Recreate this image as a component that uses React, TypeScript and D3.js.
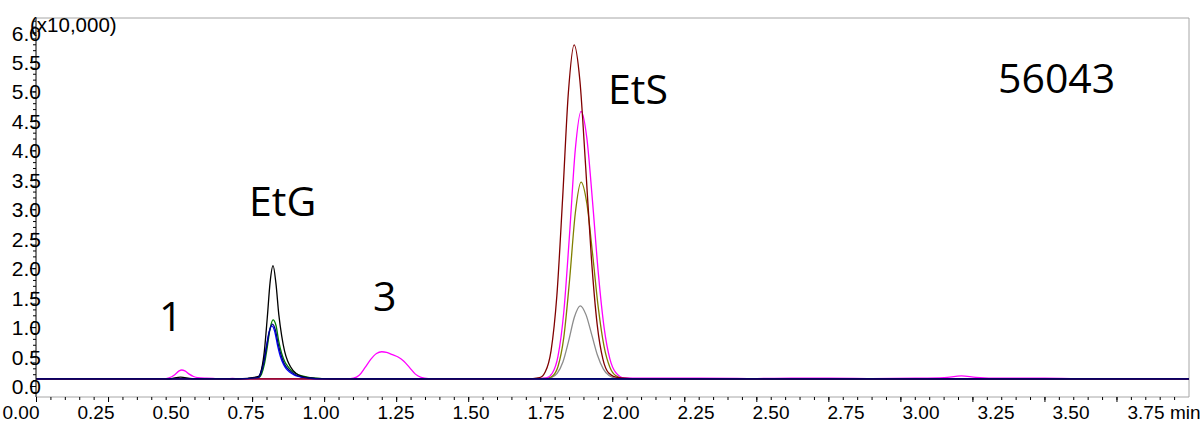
import React from "react";
import * as d3 from "d3";

// Intensity in units of x10,000; time in minutes
const xTicks = [0, 0.25, 0.5, 0.75, 1.0, 1.25, 1.5, 1.75, 2.0, 2.25, 2.5, 2.75, 3.0, 3.25, 3.5, 3.75];
const yTicks = [0, 0.5, 1.0, 1.5, 2.0, 2.5, 3.0, 3.5, 4.0, 4.5, 5.0, 5.5, 6.0];

const traceGray: [number, number][] = [
  [0, 0.13], [1.70, 0.13], [1.767, 0.133], [1.787, 0.151], [1.807, 0.221], [1.827, 0.415], [1.847, 0.775],
  [1.867, 1.18], [1.887, 1.37], [1.907, 1.22], [1.927, 0.88], [1.947, 0.53], [1.967, 0.30], [1.987, 0.185],
  [2.007, 0.144], [2.04, 0.13], [4.0, 0.13],
];
const traceOlive: [number, number][] = [
  [0, 0.13], [1.70, 0.13], [1.77, 0.137], [1.79, 0.174], [1.81, 0.34], [1.83, 0.83], [1.85, 1.80], [1.87, 2.94],
  [1.89, 3.47], [1.91, 3.11], [1.93, 2.25], [1.95, 1.33], [1.97, 0.675], [1.99, 0.326], [2.01, 0.186],
  [2.04, 0.136], [2.10, 0.13], [4.0, 0.13],
];
const traceGreen: [number, number][] = [
  [0, 0.13], [0.70, 0.13], [0.771, 0.15], [0.781, 0.21], [0.791, 0.38], [0.801, 0.67], [0.811, 0.99],
  [0.821, 1.13], [0.831, 1.04], [0.841, 0.76], [0.851, 0.56], [0.861, 0.43], [0.871, 0.35], [0.881, 0.29],
  [0.901, 0.22], [0.921, 0.18], [0.951, 0.15], [0.991, 0.135], [1.05, 0.13], [4.0, 0.13],
];
const traceBlue: [number, number][] = [
  [0, 0.13], [0.70, 0.13], [0.767, 0.15], [0.777, 0.22], [0.787, 0.40], [0.797, 0.66], [0.807, 0.92],
  [0.817, 1.03], [0.827, 0.93], [0.837, 0.69], [0.847, 0.50], [0.857, 0.38], [0.867, 0.30], [0.877, 0.25],
  [0.897, 0.19], [0.917, 0.16], [0.947, 0.14], [0.99, 0.13], [4.0, 0.13],
];
const traceMagenta: [number, number][] = [
  [0, 0.13], [0.44, 0.13], [0.46, 0.145], [0.48, 0.20], [0.495, 0.265], [0.504, 0.28], [0.515, 0.265],
  [0.53, 0.21], [0.545, 0.17], [0.56, 0.15], [0.59, 0.14], [0.62, 0.135], [0.66, 0.13], [0.68, 0.138],
  [0.70, 0.13], [1.08, 0.13], [1.10, 0.14], [1.12, 0.19], [1.14, 0.32], [1.16, 0.46], [1.18, 0.56],
  [1.198, 0.59], [1.215, 0.58], [1.235, 0.54], [1.255, 0.50], [1.275, 0.43], [1.295, 0.32], [1.315, 0.21],
  [1.335, 0.155], [1.36, 0.135], [1.40, 0.13], [1.72, 0.13], [1.77, 0.148], [1.79, 0.225], [1.81, 0.515],
  [1.83, 1.26], [1.85, 2.58], [1.87, 4.02], [1.89, 4.67], [1.91, 4.22], [1.93, 3.13], [1.95, 1.92],
  [1.97, 1.00], [1.99, 0.47], [2.01, 0.24], [2.04, 0.145], [2.10, 0.14], [2.30, 0.14], [2.50, 0.135],
  [2.62, 0.14], [2.75, 0.14], [2.90, 0.135], [3.05, 0.14], [3.15, 0.15], [3.21, 0.18], [3.26, 0.155],
  [3.35, 0.14], [3.50, 0.14], [3.60, 0.135], [4.0, 0.13],
];
const traceBrown: [number, number][] = [
  [0, 0.13], [1.70, 0.13], [1.746, 0.15], [1.766, 0.25], [1.786, 0.61], [1.806, 1.54], [1.826, 3.19],
  [1.846, 4.99], [1.866, 5.80], [1.886, 5.19], [1.906, 3.73], [1.926, 2.17], [1.946, 1.05], [1.966, 0.46],
  [1.986, 0.23], [2.02, 0.15], [2.10, 0.13], [4.0, 0.13],
];
const traceBlack: [number, number][] = [
  [0, 0.13], [0.46, 0.13], [0.50, 0.16], [0.54, 0.135], [0.70, 0.13], [0.771, 0.17], [0.781, 0.29],
  [0.791, 0.61], [0.801, 1.17], [0.811, 1.78], [0.821, 2.05], [0.831, 1.75], [0.841, 1.22], [0.851, 0.86],
  [0.861, 0.60], [0.871, 0.44], [0.881, 0.34], [0.901, 0.22], [0.921, 0.17], [0.951, 0.145], [0.991, 0.134],
  [1.05, 0.13], [4.0, 0.13],
];
const traceNavy: [number, number][] = [
  [0, 0.13], [0.70, 0.13], [0.769, 0.15], [0.779, 0.22], [0.789, 0.40], [0.799, 0.68], [0.809, 0.95],
  [0.819, 1.06], [0.829, 0.96], [0.839, 0.72], [0.849, 0.53], [0.859, 0.40], [0.869, 0.32], [0.879, 0.27],
  [0.899, 0.20], [0.919, 0.165], [0.949, 0.14], [0.99, 0.13], [4.0, 0.13],
];

const traces = [
  { data: traceGray, color: "#8c8c8c" },
  { data: traceOlive, color: "#808000" },
  { data: traceGreen, color: "#008000" },
  { data: traceBlue, color: "#0000ff" },
  { data: traceMagenta, color: "#ff00ff" },
  { data: traceBrown, color: "#800000" },
  { data: traceBlack, color: "#000000" },
  { data: traceNavy, color: "#000080" },
];

const peakLabels = [
  { text: "1", x: 159, y: 331 },
  { text: "EtG", x: 249, y: 216 },
  { text: "3", x: 373, y: 311 },
  { text: "EtS", x: 608, y: 104 },
  { text: "56043", x: 998, y: 93 },
];

export default function App() {
  const W = 1202, H = 424;
  const L = 36, R = 1189, T = 18, B = 397;
  const x = d3.scaleLinear().domain([0, 4]).range([L + 0.5, R]);
  // tick labels in the reference sit on a slightly wider spacing than the tick marks
  const xLab = d3.scaleLinear().domain([0, 4]).range([21, 1221]);
  const y = d3.scaleLinear().domain([0, 6]).range([386.5, 33]);
  const line = d3
    .line<[number, number]>()
    .x((d) => x(d[0]))
    .y((d) => y(d[1]))
    .curve(d3.curveMonotoneX);

  const minorX = d3.range(0, 80).map((i) => i * 0.05).filter((t) => x(t) <= R);
  const minorY = d3.range(-1, 63).map((i) => i * 0.1).filter((v) => y(v) >= T && y(v) <= B);
  const font = "'Liberation Sans', Arial, sans-serif";

  return (
    <svg width={W} height={H} style={{ position: "absolute", left: 0, top: 0, background: "#fff" }}>
      <rect x={0} y={0} width={W} height={H} fill="#fff" />
      <line x1={L} x2={R} y1={T} y2={T} stroke="#a6a6a6" strokeWidth={1} />
      <line x1={R} x2={R} y1={T} y2={B} stroke="#a6a6a6" strokeWidth={1} />
      <line x1={L} x2={R} y1={B} y2={B} stroke="#a6a6a6" strokeWidth={1} />
      <defs>
        <clipPath id="plotclip">
          <rect x={L} y={T} width={R - L} height={B - T} />
        </clipPath>
      </defs>
      <g clipPath="url(#plotclip)">
        {traces.map((tr, i) => (
          <path key={i} d={line(tr.data) || ""} fill="none" stroke={tr.color} strokeWidth={1.3} />
        ))}
      </g>
      <line x1={L} x2={L} y1={T} y2={B} stroke="#000" strokeWidth={1} />
      {minorY.map((v, i) => (
        <line key={"my" + i} x1={L - 3} x2={L} y1={y(v)} y2={y(v)} stroke="#000" strokeWidth={1} />
      ))}
      {yTicks.map((v) => (
        <g key={"y" + v}>
          <line x1={L - 6} x2={L} y1={y(v)} y2={y(v)} stroke="#000" strokeWidth={1} />
          <text x={41} y={y(v)} dy="0.36em" textAnchor="end" fontFamily={font} fontSize={21} fill="#000">
            {v.toFixed(1)}
          </text>
        </g>
      ))}
      <text x={30} y={32} fontFamily={font} fontSize={20.5} fill="#000">(x10,000)</text>
      {minorX.map((t, i) => (
        <line key={"mx" + i} x1={x(t)} x2={x(t)} y1={B} y2={B + 3} stroke="#000" strokeWidth={1} />
      ))}
      {xTicks.map((t) => (
        <g key={"x" + t}>
          <line x1={x(t)} x2={x(t)} y1={B} y2={B + 5} stroke="#000" strokeWidth={1} />
          <text x={xLab(t)} y={419} textAnchor="middle" fontFamily={font} fontSize={19} fill="#000">
            {t.toFixed(2)}
          </text>
        </g>
      ))}
      <text x={1170} y={419} fontFamily={font} fontSize={19} fill="#000">min</text>
      {peakLabels.map((p) => (
        <text key={p.text} x={p.x} y={p.y} fontFamily="'Open Sans', 'Noto Sans', sans-serif" fontSize={41} fill="#000">
          {p.text}
        </text>
      ))}
    </svg>
  );
}
